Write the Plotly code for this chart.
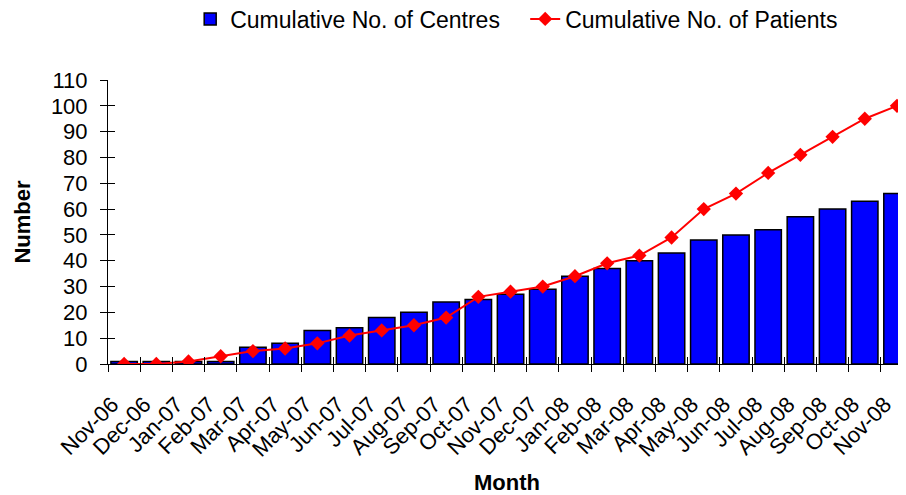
import plotly.graph_objects as go

months = ["Nov-06", "Dec-06", "Jan-07", "Feb-07", "Mar-07", "Apr-07", "May-07",
          "Jun-07", "Jul-07", "Aug-07", "Sep-07", "Oct-07", "Nov-07", "Dec-07",
          "Jan-08", "Feb-08", "Mar-08", "Apr-08", "May-08", "Jun-08", "Jul-08",
          "Aug-08", "Sep-08", "Oct-08", "Nov-08"]
centres = [1, 1, 1, 1, 6.5, 8, 13, 14, 18, 20, 24, 25, 27, 29,
           34, 37, 40, 43, 48, 50, 52, 57, 60, 63, 66]
patients = [0, 0, 1, 3, 5, 6, 8, 11, 13, 15, 18, 26, 28, 30,
            34, 39, 42, 49, 60, 66, 74, 81, 88, 95, 100]
y_ticks = list(range(0, 111, 10))

FONT = "Liberation Sans, Arial, sans-serif"

fig = go.Figure()
fig.add_trace(go.Bar(
    x=months, y=centres, name="Cumulative No. of Centres",
    marker=dict(color="#0000FF", line=dict(color="#000000", width=1.5)),
))
fig.add_trace(go.Scatter(
    x=months, y=patients, name="Cumulative No. of Patients",
    mode="lines+markers",
    line=dict(color="#FF0000", width=2),
    marker=dict(symbol="diamond", size=11, color="#FF0000"),
))
# invisible trace to carry the overlay axes (inner half of cross ticks)
fig.add_trace(go.Scatter(
    x=months, y=patients, xaxis="x2", yaxis="y2", mode="markers",
    marker=dict(opacity=0), showlegend=False, hoverinfo="skip",
))

xr = [-0.5, 24.28]
fig.update_layout(
    width=898, height=487,
    margin=dict(l=100, r=0, t=72, b=131, autoexpand=False),
    paper_bgcolor="white", plot_bgcolor="white",
    font=dict(family=FONT, size=22, color="black"),
    bargap=0.18,
    showlegend=True,
    legend=dict(orientation="h", x=0.103, xanchor="left", y=1.215, yanchor="middle",
                font=dict(size=23), bgcolor="rgba(0,0,0,0)",
                entrywidth=290, entrywidthmode="pixels"),
    xaxis=dict(
        type="category", range=xr, tickson="boundaries", automargin=False,
        ticks="outside", ticklen=7, tickcolor="black", tickwidth=1,
        showline=True, linecolor="black", linewidth=1,
        showgrid=False, tickangle=-45, tickfont=dict(size=22),
        ticklabelstandoff=18, ticklabelshift=-12,
        title=dict(text="<b>Month</b>", font=dict(size=22), standoff=19),
    ),
    yaxis=dict(
        range=[0, 110], tickvals=y_ticks, automargin=False,
        ticks="outside", ticklen=7, tickcolor="black", tickwidth=1,
        showline=True, linecolor="black", linewidth=1,
        showgrid=False, zeroline=False, tickfont=dict(size=22),
        ticklabelstandoff=8,
        title=dict(text="<b>Number</b>", font=dict(size=22), standoff=14),
    ),
    xaxis2=dict(
        type="category", range=xr, overlaying="x", anchor="y2", tickson="boundaries",
        ticks="inside", ticklen=7, tickcolor="black", tickwidth=1,
        showticklabels=False, showgrid=False, showline=False,
        categoryorder="array", categoryarray=months, automargin=False,
    ),
    yaxis2=dict(
        range=[0, 110], tickvals=y_ticks, overlaying="y", anchor="x2", side="left",
        ticks="inside", ticklen=7, tickcolor="black", tickwidth=1,
        showticklabels=False, showgrid=False, zeroline=False, showline=False,
        automargin=False,
    ),
)

fig.write_html("out.html")
